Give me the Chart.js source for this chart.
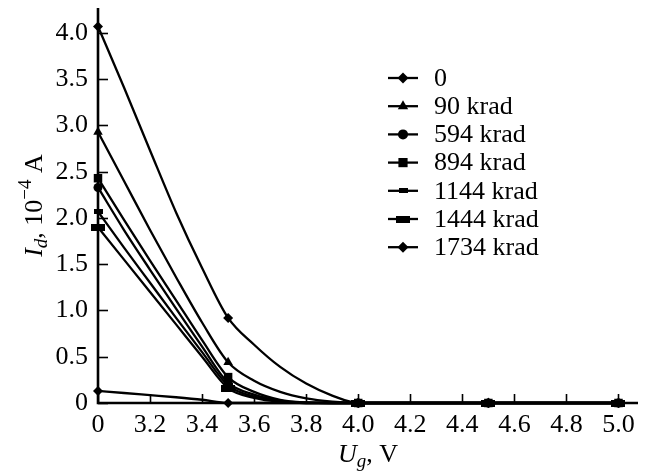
<!DOCTYPE html>
<html>
<head>
<meta charset="utf-8">
<script src="https://cdn.jsdelivr.net/npm/chart.js@4/dist/chart.umd.min.js"></script>
<style>
html, body { margin: 0; padding: 0; background: #fff; }
#wrap { width: 648px; height: 472px; }
</style>
</head>
<body>
<div id="wrap"><canvas id="chart"></canvas></div>
<script>
// gate voltage, V (the first point sits on the broken axis, labelled "0")
var ugValues = [3.0, 3.1, 3.2, 3.3, 3.4, 3.5, 3.6, 3.7, 3.8, 3.9, 4.0, 4.5, 5.0];
// which points carry a marker (the rest only shape the curve)
var markedPoints = [1, 0, 0, 0, 0, 1, 0, 0, 0, 0, 1, 1, 1];

// drain current, 10^-4 A
var id0    = [4.07, 3.41, 2.73, 2.06, 1.46, 0.92, 0.63, 0.39, 0.21, 0.08, 0, 0, 0];
var id90   = [2.93, 2.40, 1.87, 1.36, 0.87, 0.44, 0.24, 0.12, 0.05, 0.015, 0, 0, 0];
var id594  = [2.33, 1.87, 1.44, 1.02, 0.61, 0.22, 0.09, 0.025, 0.003, 0, 0, 0, 0];
var id894  = [2.43, 1.98, 1.54, 1.11, 0.68, 0.28, 0.12, 0.035, 0.006, 0, 0, 0, 0];
var id1144 = [2.07, 1.68, 1.30, 0.92, 0.55, 0.19, 0.07, 0.018, 0, 0, 0, 0, 0];
var id1444 = [1.90, 1.55, 1.20, 0.85, 0.50, 0.16, 0.055, 0.012, 0, 0, 0, 0, 0];
var id1734 = [0.13, 0.108, 0.085, 0.062, 0.035, 0, 0, 0, 0, 0, 0, 0, 0];

var seriesLabels = ['0', '90 krad', '594 krad', '894 krad', '1144 krad', '1444 krad', '1734 krad'];
var seriesValues = [id0, id90, id594, id894, id1144, id1444, id1734];

var xTickStep = 0.2;
var yTickStep = 0.5;

var FONT = '"Liberation Serif", "Times New Roman", serif';
var FS = 26;

var makeBar = function(w, h) {
    var c = document.createElement('canvas');
    c.width = w;
    c.height = h;
    var g = c.getContext('2d');
    g.fillStyle = '#000';
    g.fillRect(0, 0, w, h);
    return c;
};

var markerStyles = [
    { style: 'rectRot', radius: 5, legendRadius: 5.5 },
    { style: 'triangle', radius: 5.5, legendRadius: 6 },
    { style: 'circle', radius: 4.5, legendRadius: 5 },
    { style: 'rect', radius: 6, legendRadius: 6.5 },
    { style: makeBar(9, 5), radius: 5, legendRadius: 5 },
    { style: makeBar(14, 7), radius: 5, legendRadius: 5 },
    { style: 'rectRot', radius: 5, legendRadius: 5.5 }
];

var datasets = seriesValues.map(function(values, i) {
    var m = markerStyles[i];
    return {
        label: seriesLabels[i],
        data: ugValues.map(function(x, j) { return { x: x, y: values[j] }; }),
        borderColor: '#000',
        backgroundColor: '#000',
        borderWidth: 2.3,
        pointStyle: m.style,
        pointRadius: markedPoints.map(function(k) { return k ? m.radius : 0; }),
        pointBorderWidth: 0,
        cubicInterpolationMode: 'monotone',
        fill: false,
        clip: 8
    };
});

var drawParts = function(ctx, parts, cx, baseY) {
    var total = 0;
    parts.forEach(function(p) {
        ctx.font = p.f;
        p.w = ctx.measureText(p.t).width;
        total += p.w;
    });
    var x = cx - total / 2;
    ctx.textAlign = 'left';
    parts.forEach(function(p) {
        ctx.font = p.f;
        ctx.fillText(p.t, x, baseY + p.dy);
        x += p.w;
    });
};

// axes drawn by hand: thick lines and inward ticks
var axesPlugin = {
    id: 'axesPlugin',
    beforeDatasetsDraw: function(chart) {
        var ctx = chart.ctx;
        var a = chart.chartArea;
        var xs = chart.scales.x;
        var ys = chart.scales.y;
        ctx.save();
        ctx.strokeStyle = '#000';
        ctx.lineWidth = 1.6;
        xs.ticks.forEach(function(t) {
            var px = Math.round(xs.getPixelForValue(t.value)) + 0.5;
            ctx.beginPath();
            ctx.moveTo(px, a.bottom);
            ctx.lineTo(px, a.bottom - 9);
            ctx.stroke();
        });
        ys.ticks.forEach(function(t) {
            var py = Math.round(ys.getPixelForValue(t.value)) + 0.5;
            ctx.beginPath();
            ctx.moveTo(a.left, py);
            ctx.lineTo(a.left + 10, py);
            ctx.stroke();
        });
        ctx.lineWidth = 2.6;
        ctx.beginPath();
        ctx.moveTo(a.left, a.top);
        ctx.lineTo(a.left, a.bottom);
        ctx.lineTo(a.right, a.bottom);
        ctx.stroke();
        ctx.restore();
    },
    afterDraw: function(chart) {
        var ctx = chart.ctx;
        var a = chart.chartArea;
        ctx.save();
        ctx.fillStyle = '#000';
        ctx.textBaseline = 'alphabetic';

        // x title: U_g, V
        drawParts(ctx, [
            { t: 'U', f: 'italic ' + FS + 'px ' + FONT, dy: 0 },
            { t: 'g', f: 'italic 19px ' + FONT, dy: 5 },
            { t: ', V', f: FS + 'px ' + FONT, dy: 0 }
        ], (a.left + a.right) / 2, 462);

        // y title: I_d, 10^-4 A (rotated)
        ctx.translate(42, (a.top + a.bottom) / 2);
        ctx.rotate(-Math.PI / 2);
        drawParts(ctx, [
            { t: 'I', f: 'italic ' + FS + 'px ' + FONT, dy: 0 },
            { t: 'd', f: 'italic 19px ' + FONT, dy: 5 },
            { t: ', 10', f: FS + 'px ' + FONT, dy: 0 },
            { t: '\u22124', f: '19px ' + FONT, dy: -11 },
            { t: ' A', f: FS + 'px ' + FONT, dy: 0 }
        ], 0, 0);
        ctx.restore();
    }
};

// legend in the upper right, drawn from the datasets
var legendPlugin = {
    id: 'legendPlugin',
    afterDraw: function(chart) {
        var ctx = chart.ctx;
        var x0 = 388, x1 = 418, tx = 434, y0 = 78, step = 28.2;
        ctx.save();
        chart.data.datasets.forEach(function(ds, i) {
            var y = y0 + i * step;
            ctx.strokeStyle = ds.borderColor;
            ctx.lineWidth = ds.borderWidth;
            ctx.beginPath();
            ctx.moveTo(x0, y);
            ctx.lineTo(x1, y);
            ctx.stroke();
            ctx.fillStyle = '#000';
            var m = markerStyles[i];
            if (Chart.helpers && Chart.helpers.drawPoint) {
                Chart.helpers.drawPoint(ctx, { pointStyle: m.style, radius: m.legendRadius, rotation: 0, borderWidth: 0 }, (x0 + x1) / 2, y);
            } else {
                ctx.fillRect((x0 + x1) / 2 - 4, y - 4, 8, 8);
            }
            ctx.font = FS + 'px ' + FONT;
            ctx.textAlign = 'left';
            ctx.textBaseline = 'middle';
            ctx.fillText(ds.label, tx, y + 1);
        });
        ctx.restore();
    }
};

var noPad = function(s) {
    s.paddingTop = 0;
    s.paddingBottom = 0;
    s.paddingLeft = 0;
    s.paddingRight = 0;
};

var ctx = document.getElementById('chart').getContext('2d');
var chart = new Chart(ctx, {
    type: 'line',
    data: { datasets: datasets },
    plugins: [axesPlugin, legendPlugin],
    options: {
        responsive: true,
        maintainAspectRatio: false,
        animation: false,
        events: [],
        layout: { padding: { top: 8, right: 10, left: 0, bottom: 0 } },
        plugins: {
            legend: { display: false },
            tooltip: { enabled: false }
        },
        scales: {
            x: {
                type: 'linear',
                min: 3.0,
                max: 5.075,
                grid: { display: false, drawTicks: false },
                border: { display: false },
                ticks: {
                    stepSize: xTickStep,
                    includeBounds: false,
                    autoSkip: false,
                    maxRotation: 0,
                    padding: 7,
                    color: '#000',
                    font: { family: FONT, size: FS },
                    callback: function(v) { return Math.abs(v - 3) < 1e-6 ? '0' : v.toFixed(1); }
                },
                afterFit: function(s) { s.height = 69; noPad(s); }
            },
            y: {
                min: 0,
                max: 4.27,
                grid: { display: false, drawTicks: false },
                border: { display: false },
                ticks: {
                    stepSize: yTickStep,
                    includeBounds: false,
                    padding: 10,
                    color: '#000',
                    font: { family: FONT, size: FS },
                    callback: function(v) { return v === 0 ? '0' : v.toFixed(1); }
                },
                afterFit: function(s) { s.width = 98; noPad(s); }
            }
        }
    }
});
</script>
</body>
</html>
